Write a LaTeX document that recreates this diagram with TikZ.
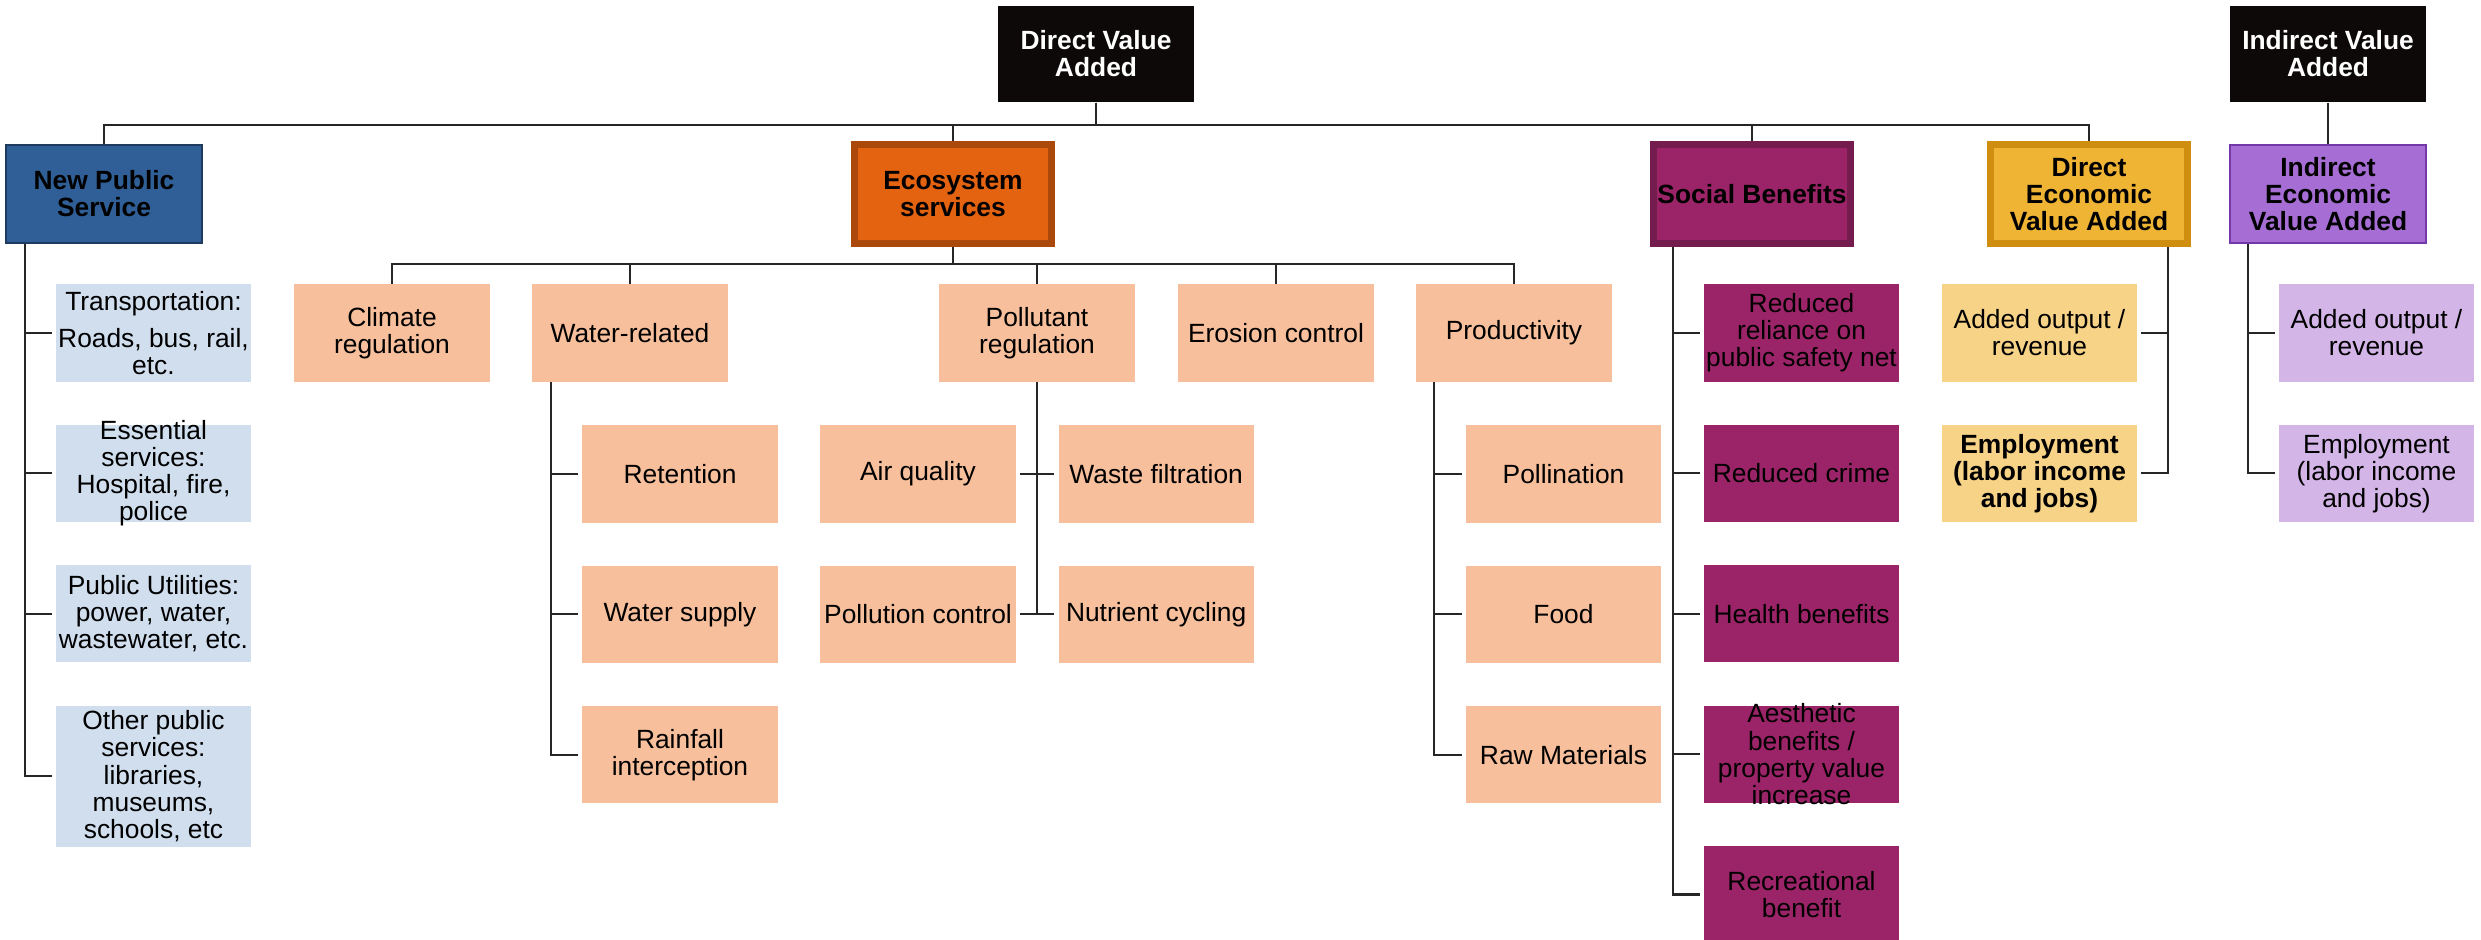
\documentclass[tikz,border=0pt]{standalone}
\usepackage{fontspec}
\setmainfont{Liberation Sans}
\usetikzlibrary{calc}

\definecolor{headblack}{HTML}{0C0908}
\definecolor{npsfill}{HTML}{2F5F96}
\definecolor{npsedge}{HTML}{1E3A5E}
\definecolor{npsleaf}{HTML}{D0DEEE}
\definecolor{ecofill}{HTML}{E36311}
\definecolor{ecoedge}{HTML}{AB490C}
\definecolor{ecoleaf}{HTML}{F7BF9B}
\definecolor{socfill}{HTML}{9B2468}
\definecolor{socedge}{HTML}{751C4E}
\definecolor{decfill}{HTML}{F0B435}
\definecolor{decedge}{HTML}{D08E10}
\definecolor{decleaf}{HTML}{F7D387}
\definecolor{iecfill}{HTML}{A66DD4}
\definecolor{iecedge}{HTML}{7438A8}
\definecolor{iecleaf}{HTML}{D4B5E8}
\definecolor{wire}{HTML}{262626}

\newcommand{\boxfont}{\fontsize{7.5}{7.7}\selectfont}

\begin{document}
\begin{tikzpicture}[x=0.01cm,y=-0.01cm,node distance=1.403cm,font=\boxfont,
        every node/.style={align=center,inner sep=0pt},
        head node/.style={rectangle,fill=headblack,text=white,font=\boxfont\bfseries,
          minimum width=1.95cm,minimum height=0.96cm},
        main node/.style={rectangle,font=\boxfont\bfseries,line width=2pt,
          minimum width=1.97cm,minimum height=0.99cm},
        thin node/.style={main node,line width=0.7pt,minimum width=1.96cm,minimum height=0.98cm},
        leaf node/.style={rectangle,minimum width=1.95cm,minimum height=0.97cm},
        link/.style={draw=wire,line width=0.6pt},
        twig/.style={link,shorten >=1pt},
        busline/.style={to path={-- ++(0,#1) -| (\tikztotarget)}},
        elbow/.style={to path={|- (\tikztotarget)}}]

      \useasboundingbox (0,0) rectangle (2481,939);

      % heads
      \node[head node] (dva) at (1096,54) {Direct Value\\Added};
      \node[head node] (iva) at (2328,54) {Indirect Value\\Added};

      \node[thin node,fill=npsfill,draw=npsedge] (nps) at (104,194) {New Public\\Service};
      \node[main node,fill=ecofill,draw=ecoedge] (eco) at (953,194) {Ecosystem\\services};
      \node[main node,fill=socfill,draw=socedge] (soc) at (1752,194) {Social Benefits};
      \node[main node,fill=decfill,draw=decedge] (dec) at (2089,194) {Direct\\Economic\\Value Added};
      \node[thin node,fill=iecfill,draw=iecedge] (iec) at (2328,194) {Indirect\\Economic\\Value Added};

      % new public service
      \node[leaf node,fill=npsleaf] (transport) at (153.5,333) {Transportation:\\[3pt]Roads, bus, rail,\\etc.};
      \node[leaf node,fill=npsleaf,label={center:{Essential\\services:\\Hospital, fire,\\police}}] (essential) [below of=transport] {};
      \node[leaf node,fill=npsleaf] (utilities) [below of=essential] {Public Utilities:\\power, water,\\wastewater, etc.};
      \node[leaf node,fill=npsleaf,minimum height=1.41cm] (otherpub) [below of=utilities,yshift=-0.22cm]
        {Other public\\services:\\libraries,\\museums,\\schools, etc};

      % ecosystem services
      \node[leaf node,fill=ecoleaf] (climate) at (392,333) {Climate\\regulation};
      \node[leaf node,fill=ecoleaf] (water) at (630,333) {Water-related};
      \node[leaf node,fill=ecoleaf] (pollut) at (1037,333) {Pollutant\\regulation};
      \node[leaf node,fill=ecoleaf] (erosion) at (1276,333) {Erosion control};
      \node[leaf node,fill=ecoleaf] (product) at (1514,333) {Productivity};

      \node[leaf node,fill=ecoleaf] (retention) at (680,474) {Retention};
      \node[leaf node,fill=ecoleaf] (supply) [below of=retention] {Water supply};
      \node[leaf node,fill=ecoleaf] (rainfall) [below of=supply] {Rainfall\\interception};

      \node[leaf node,fill=ecoleaf] (airq) at (918,474) {Air quality};
      \node[leaf node,fill=ecoleaf] (waste) [right of=airq,node distance=2.38cm] {Waste filtration};
      \node[leaf node,fill=ecoleaf] (pcontrol) [below of=airq] {Pollution control};
      \node[leaf node,fill=ecoleaf] (nutrient) [below of=waste] {Nutrient cycling};

      \node[leaf node,fill=ecoleaf] (pollination) at (1563.5,474) {Pollination};
      \node[leaf node,fill=ecoleaf] (food) [below of=pollination] {Food};
      \node[leaf node,fill=ecoleaf] (rawmat) [below of=food] {Raw Materials};

      % social benefits
      \node[leaf node,fill=socfill] (reliance) at (1801.5,333) {Reduced\\reliance on\\public safety net};
      \node[leaf node,fill=socfill] (crime) [below of=reliance] {Reduced crime};
      \node[leaf node,fill=socfill] (health) [below of=crime] {Health benefits};
      \node[leaf node,fill=socfill,label={center:{Aesthetic\\benefits /\\property value\\increase}}] (aesthetic) [below of=health] {};
      \node[leaf node,fill=socfill] (recreation) [below of=aesthetic] {Recreational\\benefit};

      % economic value added
      \node[leaf node,fill=decleaf] (doutput) at (2039.5,333) {Added output /\\revenue};
      \node[leaf node,fill=decleaf,font=\boxfont\bfseries] (djobs) [below of=doutput] {Employment\\(labor income\\and jobs)};
      \node[leaf node,fill=iecleaf] (ioutput) at (2376.5,333) {Added output /\\revenue};
      \node[leaf node,fill=iecleaf] (ijobs) [below of=ioutput] {Employment\\(labor income\\and jobs)};

      \coordinate (npsT) at ($(nps.south west)+(20,0)$);
      \coordinate (waterT) at ($(water.south west)+(19,0)$);
      \coordinate (productT) at ($(product.south west)+(18.5,0)$);
      \coordinate (socT) at ($(soc.south west)+(23,0)$);
      \coordinate (decT) at ($(dec.south east)+(-23,0)$);
      \coordinate (iecT) at ($(iec.south west)+(19.5,0)$);

      \path[link] (dva.south) edge[busline=22] (nps.north)
        edge[busline=22] (eco.north)
        edge[busline=22] (soc.north)
        edge[busline=22] (dec.north);
      \path[link] (iva) edge (iec);

      \path[link] (eco.south) edge[busline=17] (climate.north)
        edge[busline=17] (water.north)
        edge[busline=17] (pollut.north)
        edge[busline=17] (erosion.north)
        edge[busline=17] (product.north);

      \path[twig] (npsT) edge[elbow] (transport.west)
        edge[elbow] (essential.west)
        edge[elbow] (utilities.west)
        edge[elbow] (otherpub.west);
      \path[twig] (waterT) edge[elbow] (retention.west)
        edge[elbow] (supply.west)
        edge[elbow] (rainfall.west);
      \path[twig] (pollut.south) edge[elbow] (airq.east)
        edge[elbow] (waste.west)
        edge[elbow] (pcontrol.east)
        edge[elbow] (nutrient.west);
      \path[twig] (productT) edge[elbow] (pollination.west)
        edge[elbow] (food.west)
        edge[elbow] (rawmat.west);
      \path[twig] (socT) edge[elbow] (reliance.west)
        edge[elbow] (crime.west)
        edge[elbow] (health.west)
        edge[elbow] (aesthetic.west)
        edge[elbow] (recreation.west);
      \path[twig] (decT) edge[elbow] (doutput.east)
        edge[elbow] (djobs.east);
      \path[twig] (iecT) edge[elbow] (ioutput.west)
        edge[elbow] (ijobs.west);
\end{tikzpicture}
\end{document}
